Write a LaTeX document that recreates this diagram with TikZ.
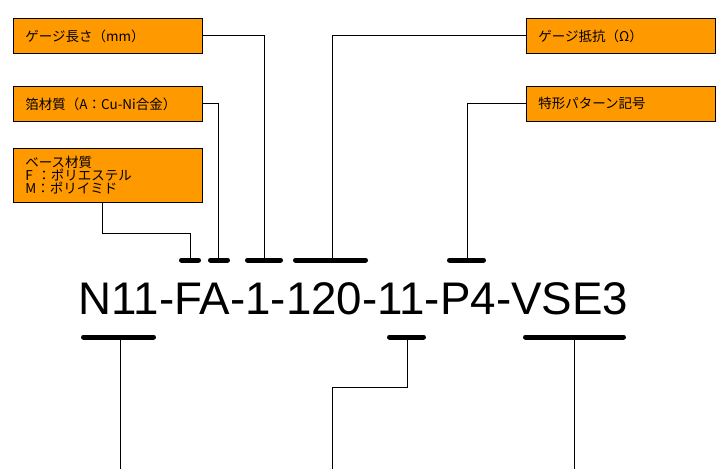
\documentclass[tikz,border=0pt]{standalone}
\usepackage{fontspec}
\setmainfont{Liberation Sans}
\newfontfamily\jpfont{Noto Sans CJK JP}
\definecolor{boxorange}{HTML}{FF9900}
\begin{document}
\begin{tikzpicture}[x=1pt,y=-1pt,
  lbl/.style={draw=black, line width=0.8pt, fill=boxorange, anchor=north west,
    minimum width=189pt, minimum height=35pt, inner xsep=12pt, inner ysep=0pt,
    text width=165pt, align=left, font=\jpfont\fontsize{13.5}{13}\selectfont},
  bar/.style={line width=5pt, line cap=round},
  wire/.style={line width=1pt}]
\useasboundingbox (0,0) rectangle (727,469);
% label boxes
\node[lbl] (b1) at (13,18) {ゲージ長さ（mm）};
\node[lbl] (b2) at (13,86) {箔材質（A：Cu-Ni合金）};
\node[lbl, minimum height=54pt] (b3) at (13,148) {ベース材質\\F ：ポリエステル\\M：ポリイミド};
\node[lbl, minimum width=184pt] (b4) at (526,18) {ゲージ抵抗（Ω）};
\node[lbl, minimum width=184pt] (b5) at (526,86) {特形パターン記号};
% code
\node[anchor=base west, inner sep=0pt, font=\fontsize{45.7}{45.7}\selectfont] (code) at (78.5,314) {N11-FA-1-120-11-P4-VSE3};
% top bars
\coordinate (t1) at (190,260); \coordinate (t2) at (218,260); \coordinate (t3) at (264,260);
\coordinate (t4) at (332,260); \coordinate (t5) at (467,260);
\draw[bar] (181.5,260) -- (198.5,260);
\draw[bar] (210.5,260) -- (227.5,260);
\draw[bar] (247.5,260) -- (280.5,260);
\draw[bar] (295.5,260) -- (365.5,260);
\draw[bar] (449.5,260) -- (483.5,260);
% bottom bars
\coordinate (u1) at (120,337); \coordinate (u2) at (407,337); \coordinate (u3) at (574,337);
\draw[bar] (83.5,337) -- (153.5,337);
\draw[bar] (389.5,337) -- (423.5,337);
\draw[bar] (525.5,337) -- (623.5,337);
% free ends
\coordinate (e1) at (120,469); \coordinate (e2) at (332,469); \coordinate (e3) at (574,469);
\coordinate (k3) at (102,202); \coordinate (j3) at (190,233); \coordinate (j2) at (332,387);
% connectors
\draw[wire] (b1.east) -| (t3);
\draw[wire] (b2.east) -| (t2);
\draw[wire] (k3) |- (j3) -- (t1);
\draw[wire] (b4.west) -| (t4);
\draw[wire] (b5.west) -| (t5);
\draw[wire] (u1) -- (e1);
\draw[wire] (u2) |- (j2) -- (e2);
\draw[wire] (u3) -- (e3);
\end{tikzpicture}
\end{document}
